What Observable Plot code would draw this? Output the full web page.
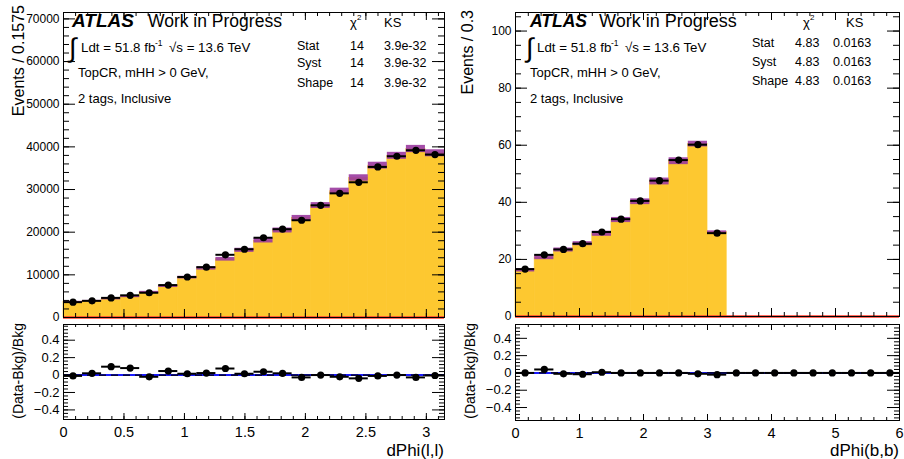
<!DOCTYPE html>
<html><head><meta charset="utf-8">
<script src="https://cdn.jsdelivr.net/npm/d3@7"></script>
<script src="https://cdn.jsdelivr.net/npm/@observablehq/plot@0.6"></script>
<style>
body{margin:0;background:#fff;width:904px;height:459px;overflow:hidden;position:relative;font-family:"Liberation Sans",Arial,sans-serif}
.p{position:absolute}
#ov{position:absolute;left:0;top:0;pointer-events:none}
#ov text{font-family:"Liberation Sans",Arial,sans-serif;fill:#000}
</style></head><body>
<div id="tl" class="p" style="left:0;top:0;width:450px"></div>
<div id="tr" class="p" style="left:450px;top:0;width:454px"></div>
<div id="bl" class="p" style="left:0;top:318px;width:450px"></div>
<div id="br" class="p" style="left:450px;top:318px;width:454px"></div>
<svg id="ov" width="904" height="459">
  <!-- left panel labels -->
  <text x="72" y="27" font-size="19" font-weight="bold" font-style="italic">ATLAS</text>
  <text x="148" y="27" font-size="17.5">Work in Progress</text>
  <text x="69" y="57" font-size="27">∫</text>
  <text x="81" y="52" font-size="13.3">Ldt = 51.8 fb</text>
  <text x="155" y="46" font-size="8.5">-1</text>
  <text x="169" y="52" font-size="13.3">√s = 13.6 TeV</text>
  <text x="78" y="77" font-size="13">TopCR, mHH &gt; 0 GeV,</text>
  <text x="78" y="103" font-size="13">2 tags, Inclusive</text>
  <text x="350" y="27" font-size="13">χ</text>
  <text x="357" y="20" font-size="8">2</text>
  <text x="384" y="27" font-size="13">KS</text>
  <text x="297" y="50" font-size="12.5">Stat</text>
  <text x="350" y="50" font-size="12.5">14</text>
  <text x="384" y="50" font-size="12.5">3.9e-32</text>
  <text x="297" y="67" font-size="12.5">Syst</text>
  <text x="350" y="67" font-size="12.5">14</text>
  <text x="384" y="67" font-size="12.5">3.9e-32</text>
  <text x="297" y="87" font-size="12.5">Shape</text>
  <text x="350" y="87" font-size="12.5">14</text>
  <text x="384" y="87" font-size="12.5">3.9e-32</text>
  <text transform="translate(24,5) rotate(-90)" text-anchor="end" font-size="16">Events / 0.1575</text>
  <text transform="translate(23,323) rotate(-90)" text-anchor="end" font-size="14">(Data-Bkg)/Bkg</text>
  <text x="444" y="456" text-anchor="end" font-size="17">dPhi(l,l)</text>
  <!-- right panel labels -->
  <text x="530" y="27" font-size="17.5" font-weight="bold" font-style="italic">ATLAS</text>
  <text x="599" y="27" font-size="18">Work in Progress</text>
  <text x="526" y="57" font-size="27">∫</text>
  <text x="537" y="52" font-size="13.3">Ldt = 51.8 fb</text>
  <text x="611" y="46" font-size="8.5">-1</text>
  <text x="625" y="52" font-size="13.3">√s = 13.6 TeV</text>
  <text x="530" y="77" font-size="13">TopCR, mHH &gt; 0 GeV,</text>
  <text x="530" y="103" font-size="13">2 tags, Inclusive</text>
  <text x="803" y="27" font-size="13">χ</text>
  <text x="810" y="20" font-size="8">2</text>
  <text x="846" y="27" font-size="13">KS</text>
  <text x="752" y="47" font-size="12.5">Stat</text>
  <text x="795" y="47" font-size="12.5">4.83</text>
  <text x="833" y="47" font-size="12.5">0.0163</text>
  <text x="752" y="66" font-size="12.5">Syst</text>
  <text x="795" y="66" font-size="12.5">4.83</text>
  <text x="833" y="66" font-size="12.5">0.0163</text>
  <text x="752" y="85" font-size="12.5">Shape</text>
  <text x="795" y="85" font-size="12.5">4.83</text>
  <text x="833" y="85" font-size="12.5">0.0163</text>
  <text transform="translate(473,10) rotate(-90)" text-anchor="end" font-size="16">Events / 0.3</text>
  <text transform="translate(475,323) rotate(-90)" text-anchor="end" font-size="14">(Data-Bkg)/Bkg</text>
  <text x="899" y="456" text-anchor="end" font-size="17">dPhi(b,b)</text>
</svg>
<script>
// ---------- data: left, dPhi(l,l), bin width 0.1575 ----------
const binWidthL = 0.1575;
const binLowL = [0, 0.1575, 0.315, 0.4725, 0.63, 0.7875, 0.945, 1.1025, 1.26, 1.4175,
                 1.575, 1.7325, 1.89, 2.0475, 2.205, 2.3625, 2.52, 2.6775, 2.835, 2.9925];
const dataL = [3600, 3900, 4600, 5200, 5800, 7600, 9500, 11800, 14700, 16000,
               18700, 20700, 22800, 26300, 29100, 31700, 35300, 37800, 39200, 38200];
const bkgL  = [3650, 3850, 4300, 4850, 5900, 7300, 9350, 11500, 13650, 15750,
               18000, 20400, 23300, 26250, 29600, 32700, 35600, 37900, 39500, 38500];
const errL  = [150, 160, 180, 200, 230, 270, 320, 380, 430, 480,
               530, 580, 630, 680, 720, 760, 800, 820, 850, 820];
const ratioL = [-0.01, 0.02, 0.096, 0.08, -0.02, 0.046, 0.015, 0.023, 0.075, 0.015,
                0.038, 0.02, -0.027, 0.0, -0.02, -0.038, -0.01, 0.0, -0.027, -0.005];

// ---------- data: right, dPhi(b,b), bin width 0.3 ----------
const binWidthR = 0.3;
const binLowR = [0, 0.3, 0.6, 0.9, 1.2, 1.5, 1.8, 2.1, 2.4, 2.7,
                 3.0, 3.3, 3.6, 3.9, 4.2, 4.5, 4.8, 5.1, 5.4, 5.7];
const dataR = [16.6, 21.6, 23.5, 25.5, 29.6, 34.1, 40.5, 47.6, 54.8, 60.2, 29.2];
const bkgR  = [16.2, 20.7, 23.3, 25.5, 29.0, 33.8, 40.2, 47.3, 54.4, 60.4, 29.6];
const errR  = [0.6, 0.8, 0.7, 0.7, 0.9, 0.9, 1.0, 1.2, 1.2, 1.0, 0.4];
const ratioR = [0.0, 0.04, -0.01, -0.015, 0.008, 0.0, 0.0, 0.0, 0.0, -0.01,
                -0.02, 0, 0, 0, 0, 0, 0, 0, 0, 0];

// ---------- tick labels ----------
const yTicksTopL = [0, 10000, 20000, 30000, 40000, 50000, 60000, 70000];
const yTicksTopR = [0, 20, 40, 60, 80, 100];
const xTicksL = [0, 0.5, 1, 1.5, 2, 2.5, 3];
const xTicksR = [0, 1, 2, 3, 4, 5, 6];
const yTicksRatio = [-0.4, -0.2, 0, 0.2, 0.4];

const YELLOW = "#fdc830", PURPLE = "#9a3a9e", RED = "#ff3a2a", BLUE = "#1a1aff";
const FONT = "'Liberation Sans', Arial, sans-serif";

const binsL = binLowL.map((lo, i) => ({lo, hi: lo + binWidthL, mid: lo + binWidthL / 2,
  data: dataL[i], bkg: bkgL[i], err: errL[i], ratio: ratioL[i]}));
const binsR = binLowR.map((lo, i) => ({lo, hi: lo + binWidthR, mid: lo + binWidthR / 2,
  data: dataR[i], bkg: bkgR[i], err: errR[i], ratio: ratioR[i]}));

function inTicks(values, axis, len, iw, ih) {
  if (axis === "y") return [
    Plot.tickY(values, {y: d => d, stroke: "#000", strokeWidth: 1, insetRight: iw - len}),
    Plot.tickY(values, {y: d => d, stroke: "#000", strokeWidth: 1, insetLeft: iw - len})];
  return [
    Plot.tickX(values, {x: d => d, stroke: "#000", strokeWidth: 1, insetTop: ih - len}),
    Plot.tickX(values, {x: d => d, stroke: "#000", strokeWidth: 1, insetBottom: ih - len})];
}
const inRange = (arr, dom) => arr.filter(v => v >= dom[0] - 1e-9 && v <= dom[1] + 1e-9);

function topPanel(o) {
  const iw = o.W - o.ml - o.mr, ih = o.H - o.mt - o.mb;
  const filled = o.bins.filter(d => d.bkg > 0);
  const pts = o.bins.filter(d => d.data > 0);
  return Plot.plot({
    width: o.W, height: o.H, marginLeft: o.ml, marginRight: o.mr, marginTop: o.mt, marginBottom: o.mb,
    x: {domain: o.xDomain, axis: null},
    y: {domain: o.yDomain, label: null},
    style: {fontFamily: FONT, fontSize: "12px", background: "transparent", overflow: "visible", color: "#000"},
    marks: [
      Plot.rect(filled, {x1: "lo", x2: "hi", y1: 0, y2: "bkg", fill: YELLOW, stroke: YELLOW, strokeWidth: 0.7}),
      Plot.rect(filled, {x1: "lo", x2: "hi", y1: d => d.bkg - d.err, y2: d => d.bkg + d.err, fill: PURPLE, fillOpacity: 0.9}),
      Plot.ruleY([0], {stroke: RED, strokeWidth: 2.5}),
      Plot.ruleY(pts, {x1: "lo", x2: "hi", y: "data", stroke: "#000", strokeWidth: 2}),
      Plot.dot(pts, {x: "mid", y: "data", r: 3.6, fill: "#000", stroke: "none"}),
      ...inTicks(o.yMajor, "y", 12, iw, ih),
      ...inTicks(o.yMinor, "y", 6, iw, ih),
      ...inTicks(o.xMajor, "x", 8, iw, ih),
      ...inTicks(o.xMinor, "x", 4, iw, ih),
      Plot.axisY({ticks: o.yMajor, anchor: "left", tickSize: 0, tickPadding: 4, tickFormat: d => String(d), fontSize: 12, label: null}),
      Plot.frame({stroke: "#000", strokeWidth: 1})
    ]
  });
}

function ratioPanel(o) {
  const iw = o.W - o.ml - o.mr, ih = o.H - o.mt - o.mb;
  const fmt = d => d === 0 ? "0" : d3.format(".1f")(d);
  return Plot.plot({
    width: o.W, height: o.H, marginLeft: o.ml, marginRight: o.mr, marginTop: o.mt, marginBottom: o.mb,
    x: {domain: o.xDomain, label: null},
    y: {domain: o.yDomain, label: null},
    style: {fontFamily: FONT, fontSize: "13px", background: "transparent", overflow: "visible", color: "#000"},
    marks: [
      Plot.ruleY([0], {stroke: BLUE, strokeWidth: 2}),
      Plot.ruleY([0], {stroke: "#000", strokeWidth: 1.2, strokeDasharray: "7,5"}),
      Plot.ruleY(o.bins, {x1: "lo", x2: "hi", y: "ratio", stroke: "#000", strokeWidth: 2}),
      Plot.dot(o.bins, {x: "mid", y: "ratio", r: 3.6, fill: "#000", stroke: "none"}),
      ...inTicks(yTicksRatio, "y", 12, iw, ih),
      ...inTicks(inRange(d3.range(-0.56, 0.6, 0.04).map(v => +v.toFixed(2)), o.yDomain), "y", 5, iw, ih),
      ...inTicks(o.xMajor, "x", 6, iw, ih),
      ...inTicks(o.xMinor, "x", 3, iw, ih),
      Plot.axisY({ticks: yTicksRatio, anchor: "left", tickSize: 0, tickPadding: 4, tickFormat: fmt, fontSize: 13, label: null}),
      Plot.axisX({ticks: o.xMajor, anchor: "bottom", tickSize: 0, tickPadding: 7, tickFormat: d => String(d), fontSize: 14.5, label: null}),
      Plot.frame({stroke: "#000", strokeWidth: 1})
    ]
  });
}

const domL = [0, 3.15], domR = [0, 6];
const minorXL = inRange(d3.range(0, 3.2, 0.1).map(v => +v.toFixed(2)), domL);
const minorXR = inRange(d3.range(0, 6.01, 0.2).map(v => +v.toFixed(2)), domR);

document.getElementById("tl").append(topPanel({
  W: 450, H: 322, ml: 63, mr: 6, mt: 12, mb: 5, xDomain: domL, yDomain: [0, 71500], bins: binsL,
  yMajor: yTicksTopL, yMinor: d3.range(0, 71500, 2000), xMajor: xTicksL, xMinor: minorXL}));
document.getElementById("tr").append(topPanel({
  W: 454, H: 321, ml: 65, mr: 5, mt: 12, mb: 5, xDomain: domR, yDomain: [0, 106.5], bins: binsR,
  yMajor: yTicksTopR, yMinor: d3.range(0, 106, 5), xMajor: xTicksR, xMinor: minorXR}));
document.getElementById("bl").append(ratioPanel({
  W: 450, H: 141, ml: 63, mr: 6, mt: 6, mb: 40, xDomain: domL, yDomain: [-0.51, 0.58], bins: binsL,
  xMajor: xTicksL, xMinor: minorXL}));
document.getElementById("br").append(ratioPanel({
  W: 454, H: 141, ml: 65, mr: 5, mt: 6, mb: 39, xDomain: domR, yDomain: [-0.55, 0.56], bins: binsR,
  xMajor: xTicksR, xMinor: minorXR}));
</script>
</body></html>
